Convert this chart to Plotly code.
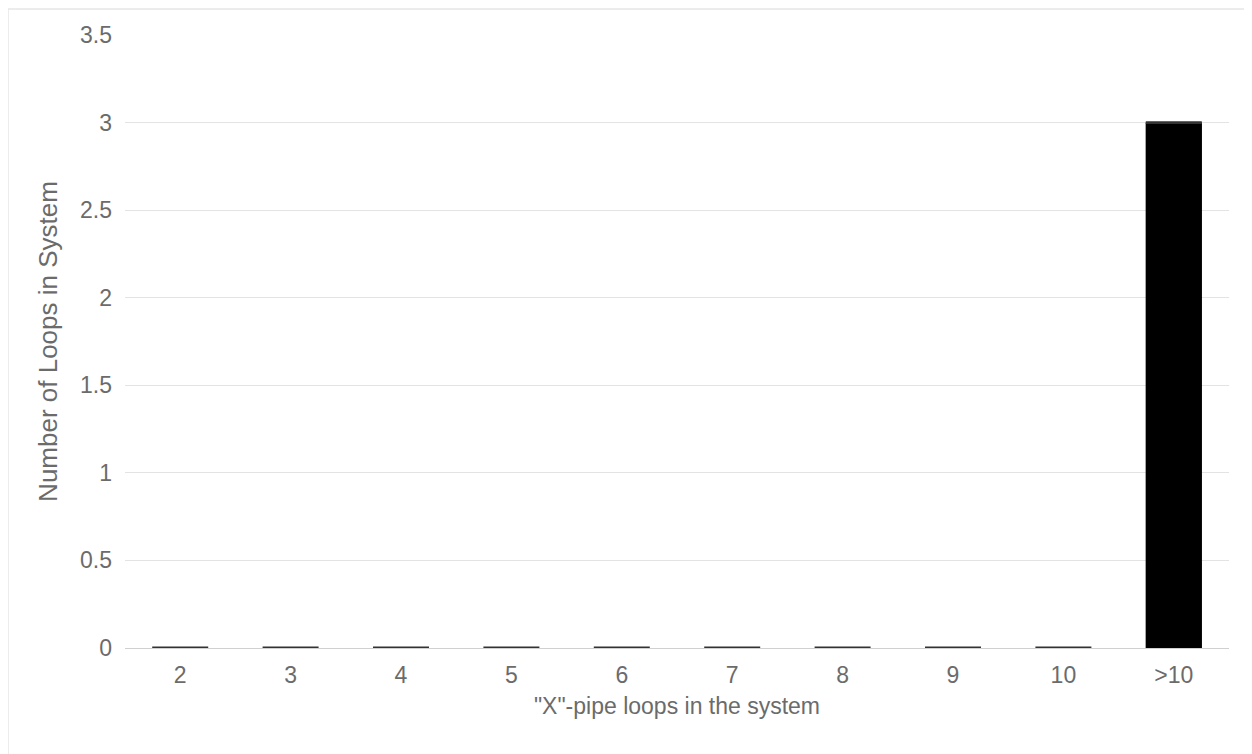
import plotly.graph_objects as go

categories = ["2", "3", "4", "5", "6", "7", "8", "9", "10", ">10"]
loops = [0, 0, 0, 0, 0, 0, 0, 0, 0, 3]
y_ticks = [0, 0.5, 1, 1.5, 2, 2.5, 3, 3.5]
y_tick_text = ["0", "0.5", "1", "1.5", "2", "2.5", "3", "3.5"]

# page has an 8px body margin, so the figure is laid out 8px smaller
W, H = 1244, 746
ML, MR, MT, MB = 117, 23, 27, 106
PW, PH = W - ML - MR, H - MT - MB

TXT = "#6b6b6b"
FONT = "Liberation Sans, Arial, sans-serif"

fig = go.Figure()
fig.add_trace(go.Bar(
    x=categories, y=loops,
    marker=dict(color="#000000", line=dict(width=0)),
    hoverinfo="x+y",
))
# zero-value bars are drawn as a thin dark outline in the reference
fig.add_trace(go.Scatter(
    x=categories, y=loops, mode="markers",
    marker=dict(symbol="line-ew", size=40, line=dict(width=2.8, color="#333333")),
    hoverinfo="skip",
))

fig.update_layout(
    width=W, height=H,
    margin=dict(l=ML, r=MR, t=MT, b=MB, autoexpand=False),
    paper_bgcolor="white", plot_bgcolor="white",
    showlegend=False,
    bargap=0.49,
    font=dict(family=FONT, color=TXT),
    xaxis=dict(
        title=dict(text='"X"-pipe loops in the system', font=dict(size=23, color=TXT), standoff=10),
        tickfont=dict(size=23, color=TXT),
        range=[-0.5, len(categories) - 0.5],
        showgrid=False, showline=False, zeroline=False, ticks="",
        ticklabelstandoff=11,
        automargin=False,
    ),
    yaxis=dict(
        title=dict(text="Number of Loops in System", font=dict(size=26, color=TXT), standoff=14),
        range=[0, 3.5], tickvals=y_ticks, ticktext=y_tick_text,
        tickfont=dict(size=23, color=TXT),
        showgrid=True, gridcolor="#e3e3e3", gridwidth=1,
        zeroline=True, zerolinecolor="#d0d0d0", zerolinewidth=1,
        showline=False, ticks="", ticklabelstandoff=12,
        automargin=False,
    ),
    shapes=[dict(
        type="rect", xref="paper", yref="paper",
        x0=(0 - ML) / PW, x1=(W + 30 - ML) / PW,
        y0=-(H + 30 - (H - MB)) / PH, y1=(H - MB - 1) / PH,
        line=dict(color="#e6e6e6", width=1.5), layer="below",
    )],
)

fig.write_html("out.html")
